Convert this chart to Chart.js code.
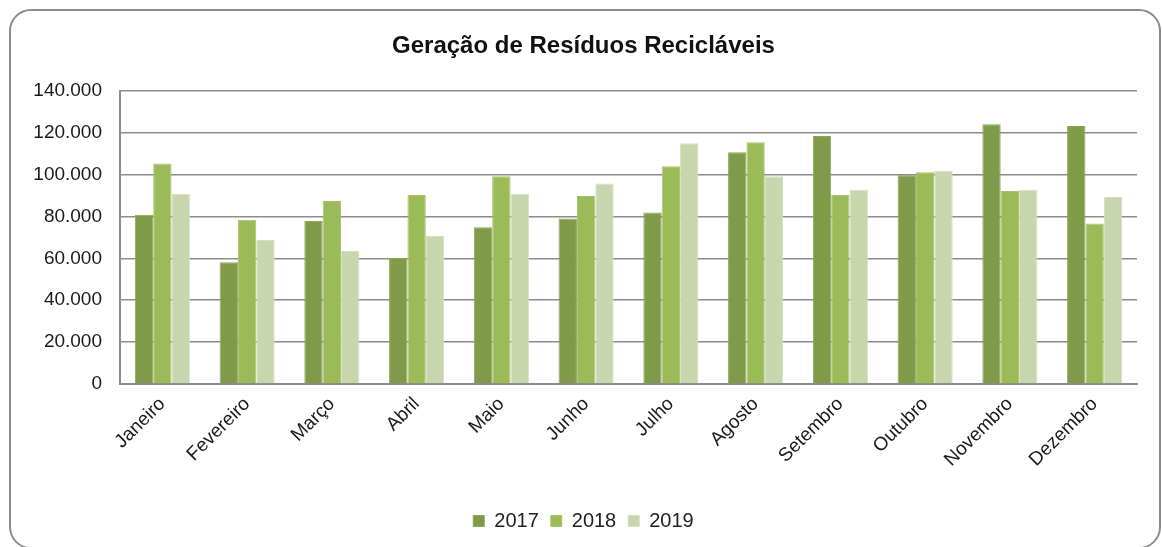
<!DOCTYPE html>
<html lang="pt-BR">

<head>
  <meta charset="UTF-8" />
  <title>Geração de Resíduos Recicláveis</title>
  <style>
    html,
    body {
      margin: 0;
      padding: 0;
      background: #ffffff;
      overflow: hidden;
    }

    .card {
      position: absolute;
      left: 9px;
      top: 9px;
      width: 1152px;
      height: 540px;
      border: 2px solid #8c8c8c;
      border-radius: 22px;
      box-sizing: border-box;
    }

    .chart-wrap {
      position: absolute;
      left: 0;
      top: 0;
      width: 1162px;
      height: 547px;
    }
  </style>
</head>

<body>
  <div class="card"></div>
  <div class="chart-wrap">
    <canvas id="grafico"></canvas>
  </div>

  <script src="https://cdn.jsdelivr.net/npm/chart.js"></script>
  <script>
    // Dados do gráfico
    const meses = ["Janeiro", "Fevereiro", "Março", "Abril", "Maio", "Junho",
      "Julho", "Agosto", "Setembro", "Outubro", "Novembro", "Dezembro"];
    const anos = ["2017", "2018", "2019"];
    const dados2017 = [80800, 58100, 77800, 60200, 74900, 79000, 81900, 110700, 118400, 99700, 124000, 123200];
    const dados2018 = [105300, 78400, 87400, 90200, 99200, 89800, 104000, 115400, 90200, 101100, 92200, 76600];
    const dados2019 = [90900, 68800, 63500, 70700, 90900, 95700, 114900, 99200, 92800, 101800, 92800, 89300];
    const eixoMax = 140000;
    const eixoPasso = 20000;

    const cores = ["#7f9a48", "#9bbb59", "#c7d6ad"];
    const bordas = ["#8ba656", "#a8c46a", "#d3e0bd"];
    const fonte = "'Liberation Sans', Arial, sans-serif";

    // 140000 -> "140.000"
    function formatar(v) {
      return String(v).replace(/\B(?=(\d{3})+(?!\d))/g, ".");
    }

    const ctx = document.getElementById("grafico").getContext("2d");
    new Chart(ctx, {
      type: "bar",
      data: {
        labels: meses,
        datasets: [dados2017, dados2018, dados2019].map((serie, i) => ({
          label: anos[i],
          data: serie,
          backgroundColor: cores[i],
          borderColor: bordas[i],
          borderWidth: 1,
          categoryPercentage: 0.65,
          barPercentage: 1.0,
        })),
      },
      options: {
        responsive: true,
        maintainAspectRatio: false,
        animation: false,
        layout: {
          padding: { left: 30, right: 25, top: 0, bottom: 6 },
        },
        plugins: {
          title: {
            display: true,
            text: "Geração de Resíduos Recicláveis",
            color: "#111111",
            font: { family: fonte, size: 24, weight: "bold" },
            padding: { top: 32, bottom: 30 },
          },
          legend: {
            position: "bottom",
            labels: {
              color: "#222222",
              font: { family: fonte, size: 20 },
              boxWidth: 11,
              boxHeight: 11,
              padding: 12,
            },
          },
          tooltip: { enabled: false },
        },
        scales: {
          x: {
            grid: { display: false, drawTicks: false },
            border: { display: true, color: "#8c8c8c", width: 2 },
            ticks: {
              color: "#1a1a1a",
              font: { family: fonte, size: 19 },
              minRotation: 45,
              maxRotation: 45,
              padding: 9,
            },
            afterFit: (escala) => {
              escala.height = 115;
            },
          },
          y: {
            min: 0,
            max: eixoMax,
            ticks: {
              stepSize: eixoPasso,
              color: "#1a1a1a",
              font: { family: fonte, size: 19 },
              padding: 18,
              callback: (v) => formatar(v),
            },
            grid: { color: "#8c8c8c", lineWidth: 1.5, drawTicks: false },
            border: { display: true, color: "#8c8c8c", width: 2 },
            afterFit: (escala) => {
              escala.width = 90;
            },
          },
        },
      },
    });
  </script>
</body>

</html>
